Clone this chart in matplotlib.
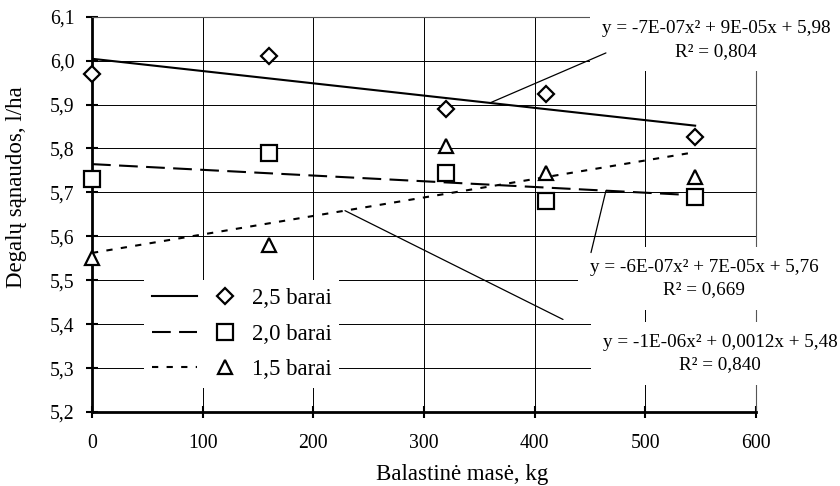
import numpy as np
import matplotlib
matplotlib.use("Agg")
import matplotlib.pyplot as plt
from matplotlib.lines import Line2D
from matplotlib.legend_handler import HandlerTuple

plt.rcParams['font.family'] = ['Liberation Serif', 'DejaVu Serif']

# ---- data ----
ballast_kg = [0, 160, 320, 410, 545]
fuel_25 = [5.97, 6.01, 5.89, 5.925, 5.825]
fuel_20 = [5.73, 5.79, 5.745, 5.68, 5.69]
fuel_15 = [5.55, 5.58, 5.805, 5.745, 5.735]
series_labels = ["2,5 barai", "2,0 barai", "1,5 barai"]
equations = [
    "y = -7E-07x² + 9E-05x + 5,98\nR² = 0,804",
    "y = -6E-07x² + 7E-05x + 5,76\nR² = 0,669",
    "y = -1E-06x² + 0,0012x + 5,48\nR² = 0,840",
]
x_ticks = [0, 100, 200, 300, 400, 500, 600]
y_ticks = [5.2, 5.3, 5.4, 5.5, 5.6, 5.7, 5.8, 5.9, 6.0, 6.1]
y_ticklabels = ["5,2", "5,3", "5,4", "5,5", "5,6", "5,7", "5,8", "5,9", "6,0", "6,1"]
x_label = "Balastinė masė, kg"
y_label = "Degalų sąnaudos, l/ha"

fig = plt.figure(figsize=(8.4, 4.86), dpi=100)
ax = fig.add_axes([92/840, 1-412/486, 664/840, (412-16.7)/486])

x = np.array(ballast_kg, dtype=float)
styles = [
    dict(ls='-', marker='D', ms=8.5),
    dict(ls=(0, (9, 4)), marker='s', ms=11),
    dict(ls=(0, (3, 4)), marker='^', ms=10.5),
]
series = [fuel_25, fuel_20, fuel_15]
handles = []
trend_lines = []
for ys, st in zip(series, styles):
    coef = np.polyfit(x, ys, 1)
    xx = np.array([x.min(), x.max()])
    ax.plot(xx, np.polyval(coef, xx), color='black', lw=1.5, ls=st['ls'], zorder=3)
    trend_lines.append(coef)
    ax.plot(x, ys, ls='none', marker=st['marker'], ms=st['ms'], mfc='white',
            mec='black', mew=1.6, zorder=4, clip_on=False)
    handles.append((Line2D([], [], color='black', lw=1.5, ls=st['ls']),
                    Line2D([], [], ls='none', marker=st['marker'], ms=st['ms'],
                           mfc='white', mec='black', mew=1.6)))

ax.set_xlim(0, 600)
ax.set_ylim(5.2, 6.1)
ax.set_xticks(x_ticks)
ax.set_yticks(y_ticks)
ax.set_yticklabels(y_ticklabels)
ax.grid(True, color='black', lw=0.7)
ax.set_axisbelow(True)
for s in ['left', 'bottom']:
    ax.spines[s].set_linewidth(2)
for s in ['right', 'top']:
    ax.spines[s].set_linewidth(0.8)
    ax.spines[s].set_color('#555555')
ax.tick_params(direction='inout', length=9, width=1.5, labelsize=14.2)
ax.tick_params(axis='x', pad=11)
ax.tick_params(axis='y', pad=8)
ax.set_xlabel(x_label, fontsize=16.5, va='baseline', ha='center')
ax.set_ylabel(y_label, fontsize=16.5, va='center', ha='center')
ax.xaxis.set_label_coords(0.557, -0.172)
ax.yaxis.set_label_coords(-0.113, 0.57)

leg = ax.legend(handles, series_labels, handler_map={tuple: HandlerTuple(ndivide=None, pad=0.26)},
                loc='center left', bbox_to_anchor=(0.078, 0.197), borderaxespad=0,
                fontsize=16.5, handlelength=4.2, handletextpad=0.15, labelspacing=0.62,
                frameon=True, fancybox=False, framealpha=1, edgecolor='none', borderpad=0.35)
leg.set_zorder(5)

# annotations: text and leader lines
text_pos = [(563.8, 6.047), (553, 5.504), (567.5, 5.333)]
leader_from = [(464.4, 6.0175), (450.9, 5.563), (425.6, 5.4107)]
leader_to_x = [359.6, 464.4, 228.6]
for txt, tp, lf, lx, coef in zip(equations, text_pos, leader_from, leader_to_x, trend_lines):
    ax.text(tp[0], tp[1], txt, ha='center', va='center', fontsize=13.8, linespacing=1.45,
            zorder=3.5, clip_on=False,
            bbox=dict(boxstyle='square,pad=0.6', fc='white', ec='none'))
    ax.annotate('', xy=(lx, np.polyval(coef, lx)), xytext=lf,
                arrowprops=dict(arrowstyle='-', color='black', lw=0.9,
                                shrinkA=0, shrinkB=0), zorder=3.6, annotation_clip=False)

fig.savefig('out.png', dpi=100)
